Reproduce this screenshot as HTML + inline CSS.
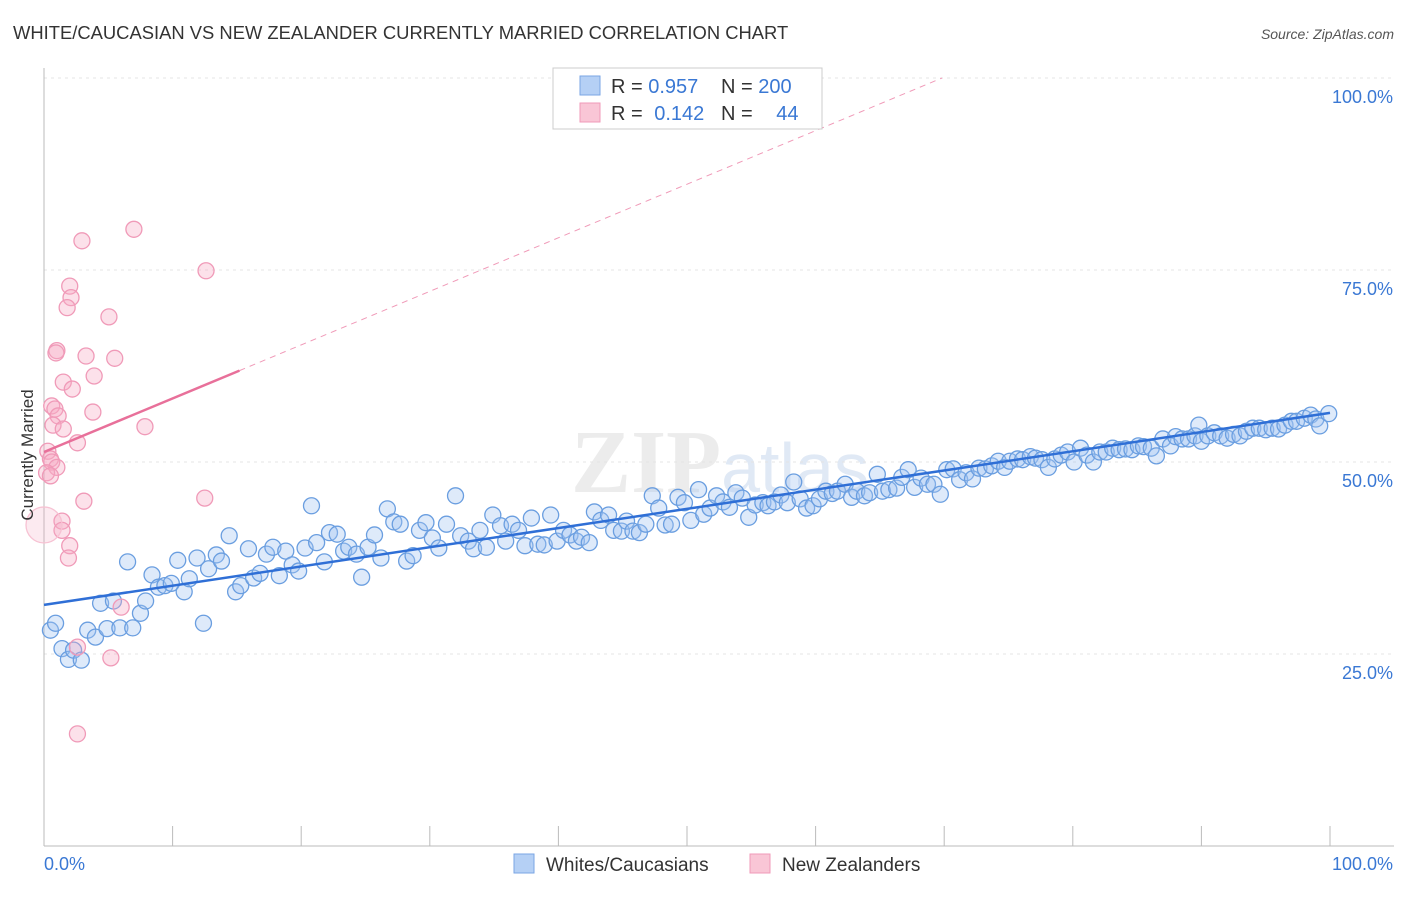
<!DOCTYPE html>
<html><head><meta charset="utf-8"><style>
body{margin:0;background:#fff;font-family:"Liberation Sans",sans-serif;}
</style></head><body>
<svg id="chart" width="1406" height="892" xmlns="http://www.w3.org/2000/svg" font-family="Liberation Sans, sans-serif">
<text x="13" y="39" font-size="18.4" fill="#333">WHITE/CAUCASIAN VS NEW ZEALANDER CURRENTLY MARRIED CORRELATION CHART</text>
<text x="1394" y="39" font-size="14" fill="#555" font-style="italic" text-anchor="end">Source: ZipAtlas.com</text>
<text x="720" y="492" font-size="90" fill="#ececec" text-anchor="middle" font-family="Liberation Serif, serif" font-weight="bold">ZIP<tspan fill="#e0e9f5" font-family="Liberation Sans, sans-serif" font-weight="normal" font-size="70">atlas</tspan></text>
<g id="grid"></g>
<g id="axes"></g>
<g id="marks"></g>
<text transform="translate(33,455) rotate(-90)" font-size="17" fill="#333" text-anchor="middle">Currently Married</text>
<g>
<rect x="553" y="68" width="269" height="61" fill="#fff" stroke="#ccc"/>
<rect x="580" y="76" width="20" height="19" fill="#b5d0f5" stroke="#7aa6e4"/>
<rect x="580" y="103" width="20" height="19" fill="#f9c6d6" stroke="#f09ab8"/>
<text x="611" y="93" font-size="20" fill="#333">R = <tspan fill="#3a78d4">0.957</tspan></text>
<text x="721" y="93" font-size="20" fill="#333">N = <tspan fill="#3a78d4">200</tspan></text>
<text x="611" y="120" font-size="20" fill="#333">R = <tspan fill="#3a78d4" dx="6">0.142</tspan></text>
<text x="721" y="120" font-size="20" fill="#333">N = <tspan fill="#3a78d4" dx="18">44</tspan></text>
</g>
<g>
<rect x="514" y="854" width="20" height="19" fill="#b5d0f5" stroke="#7aa6e4"/>
<text x="546" y="871" font-size="19" fill="#333">Whites/Caucasians</text>
<rect x="750" y="854" width="20" height="19" fill="#f9c6d6" stroke="#f09ab8"/>
<text x="782" y="871" font-size="19" fill="#333">New Zealanders</text>
</g>
</svg>
<script>
const yTicks=[25,50,75,100];
const yTickLabels=["25.0%","50.0%","75.0%","100.0%"];
const xTicks=[0,10,20,30,40,50,60,70,80,90,100];
const blueX=[0.5,0.9,1.4,1.9,2.3,2.9,3.4,4.0,4.4,4.9,5.4,5.9,6.5,6.9,7.5,7.9,8.4,8.9,9.4,9.9,10.4,10.9,11.3,11.9,12.4,12.8,13.4,13.8,14.4,14.9,15.3,15.9,16.3,16.8,17.3,17.8,18.3,18.8,19.3,19.8,20.3,20.8,21.2,21.8,22.2,22.8,23.3,23.7,24.3,24.7,25.2,25.7,26.2,26.7,27.2,27.7,28.2,28.7,29.2,29.7,30.2,30.7,31.3,32.0,32.4,33.0,33.4,33.9,34.4,34.9,35.5,35.9,36.4,36.9,37.4,37.9,38.4,38.9,39.4,39.9,40.4,40.9,41.4,41.8,42.4,42.8,43.3,43.9,44.3,44.9,45.3,45.8,46.3,46.8,47.3,47.8,48.3,48.8,49.3,49.8,50.3,50.9,51.3,51.8,52.3,52.8,53.3,53.8,54.3,54.8,55.3,55.9,56.3,56.8,57.3,57.8,58.3,58.8,59.3,59.8,60.3,60.8,61.3,61.7,62.3,62.8,63.2,63.8,64.2,64.8,65.2,65.7,66.3,66.7,67.2,67.7,68.2,68.7,69.2,69.7,70.2,70.7,71.2,71.7,72.2,72.7,73.2,73.7,74.2,74.7,75.1,75.7,76.1,76.7,77.1,77.6,78.1,78.6,79.1,79.6,80.1,80.6,81.1,81.6,82.1,82.6,83.1,83.6,84.1,84.6,85.1,85.5,86.1,86.5,87.0,87.6,88.0,88.5,89.0,89.5,89.8,90.0,90.5,91.0,91.5,92.0,92.5,93.0,93.5,94.0,94.5,95.0,95.5,96.0,96.5,97.0,97.4,98.0,98.5,98.9,99.2,99.9];
const blueY=[28.1,29.0,25.7,24.3,25.5,24.2,28.1,27.2,31.6,28.3,31.9,28.4,37.0,28.4,30.3,31.9,35.3,33.7,33.9,34.2,37.2,33.1,34.8,37.5,29.0,36.1,37.9,37.1,40.4,33.1,33.9,38.7,34.9,35.5,38.0,38.9,35.2,38.4,36.6,35.8,38.8,44.3,39.5,37.0,40.8,40.6,38.4,38.9,38.0,35.0,38.9,40.5,37.5,43.9,42.2,41.9,37.1,37.8,41.1,42.1,40.1,38.8,41.9,45.6,40.4,39.7,38.7,41.1,38.9,43.1,41.7,39.7,41.9,41.1,39.1,42.7,39.3,39.2,43.1,39.7,41.1,40.5,39.7,40.2,39.5,43.5,42.4,43.1,41.1,41.0,42.3,41.0,40.8,41.9,45.6,44.0,41.8,41.9,45.4,44.7,42.4,46.4,43.2,44.0,45.6,44.8,44.1,46.0,45.3,42.8,44.4,44.7,44.3,44.8,45.7,44.7,47.4,45.2,44.0,44.3,45.2,46.2,45.9,46.2,47.1,45.4,46.2,45.6,46.0,48.4,46.2,46.4,46.6,48.0,49.0,46.7,47.9,47.1,47.1,45.8,49.0,49.1,47.7,48.6,47.8,49.2,49.1,49.5,50.1,49.3,50.1,50.4,50.3,50.7,50.5,50.3,49.3,50.4,50.9,51.3,50.0,51.8,50.9,50.0,51.3,51.3,51.8,51.6,51.7,51.6,52.1,52.0,51.8,50.8,53.0,52.1,53.3,53.0,53.0,53.4,54.8,52.7,53.4,53.8,53.4,53.1,53.6,53.4,54.0,54.4,54.4,54.2,54.4,54.3,54.8,55.3,55.3,55.7,56.1,55.6,54.7,56.3];
const pinkX=[2.95,6.99,12.6,2.0,2.1,1.8,5.05,1.0,0.93,3.27,5.5,3.9,1.5,2.2,0.6,0.85,3.8,1.1,0.7,1.5,7.85,2.6,0.3,0.5,0.6,1.0,0.2,0.5,3.1,12.5,1.4,1.4,2.0,1.9,6.0,2.6,5.2,2.6,0];
const pinkY=[78.8,80.3,74.9,72.9,71.4,70.1,68.9,64.5,64.2,63.8,63.5,61.2,60.4,59.5,57.3,56.9,56.5,56.0,54.8,54.3,54.6,52.5,51.4,50.4,50.0,49.3,48.6,48.2,44.9,45.3,42.3,41.1,39.1,37.5,31.1,25.9,24.5,14.6,41.8];
const blueTrend=[0,31.4,100,56.4];
const pinkTrend=[0,51.3,15.2,61.9];

const NS="http://www.w3.org/2000/svg";
const X0=44,X1=1330,Y0=846,Y100=78;
const sx=v=>X0+(X1-X0)*v/100;
const sy=v=>Y0-(Y0-Y100)*v/100;
function mk(tag,attrs,parent){const e=document.createElementNS(NS,tag);for(const k in attrs)e.setAttribute(k,attrs[k]);parent.appendChild(e);return e;}
const grid=document.getElementById('grid'),axes=document.getElementById('axes'),marks=document.getElementById('marks');
yTicks.forEach((t,i)=>{
  const l=mk('line',{x1:44,x2:1394,y1:sy(t),y2:sy(t),stroke:'#e4e4e4','stroke-dasharray':'3,4'},grid);
  
  
  const tx=mk('text',{x:1393,y:sy(t)+25,'font-size':18,fill:'#3a78d4','text-anchor':'end'},axes);
  tx.textContent=yTickLabels[i];
  
  
});
const ax=mk('line',{x1:44,x2:1394,y1:846,y2:846,stroke:'#bbb'},axes);


const ay=mk('line',{x1:44,x2:44,y1:68,y2:846,stroke:'#bbb'},axes);


xTicks.forEach(t=>{
  const l=mk('line',{x1:sx(t),x2:sx(t),y1:826,y2:846,stroke:'#bbb'},axes);
  
  
});
const xl0=mk('text',{x:44,y:870,'font-size':18,fill:'#3a78d4'},axes);xl0.textContent='0.0%';


const xl1=mk('text',{x:1393,y:870,'font-size':18,fill:'#3a78d4','text-anchor':'end'},axes);xl1.textContent='100.0%';


blueX.forEach((x,i)=>{
  const c=mk('circle',{cx:sx(x),cy:sy(blueY[i]),r:8,fill:'rgba(160,196,240,0.35)',stroke:'#6a9ee0','stroke-width':1.3},marks);
  
  
});
pinkX.forEach((x,i)=>{
  const big=i===pinkX.length-1;
  const c=mk('circle',{cx:sx(x),cy:sy(pinkY[i]),r:big?18:8,fill:big?'rgba(245,170,195,0.25)':'rgba(245,170,195,0.35)',stroke:big?'#f7c2d3':'#f09ab8','stroke-width':1.3},marks);
  
  
});
const slopeP=(pinkTrend[3]-pinkTrend[1])/(pinkTrend[2]-pinkTrend[0]);
const xEnd=(100-pinkTrend[1])/slopeP;
const pd=mk('line',{x1:sx(pinkTrend[2]),y1:sy(pinkTrend[3]),x2:sx(xEnd),y2:sy(100),stroke:'#f09ab8','stroke-width':1,'stroke-dasharray':'6,5'},marks);


const pt=mk('line',{x1:sx(pinkTrend[0]),y1:sy(pinkTrend[1]),x2:sx(pinkTrend[2]),y2:sy(pinkTrend[3]),stroke:'#e8709a','stroke-width':2.5},marks);


const bt=mk('line',{x1:sx(blueTrend[0]),y1:sy(blueTrend[1]),x2:sx(blueTrend[2]),y2:sy(blueTrend[3]),stroke:'#2f6fd6','stroke-width':2.5},marks);


</script>
</body></html>
